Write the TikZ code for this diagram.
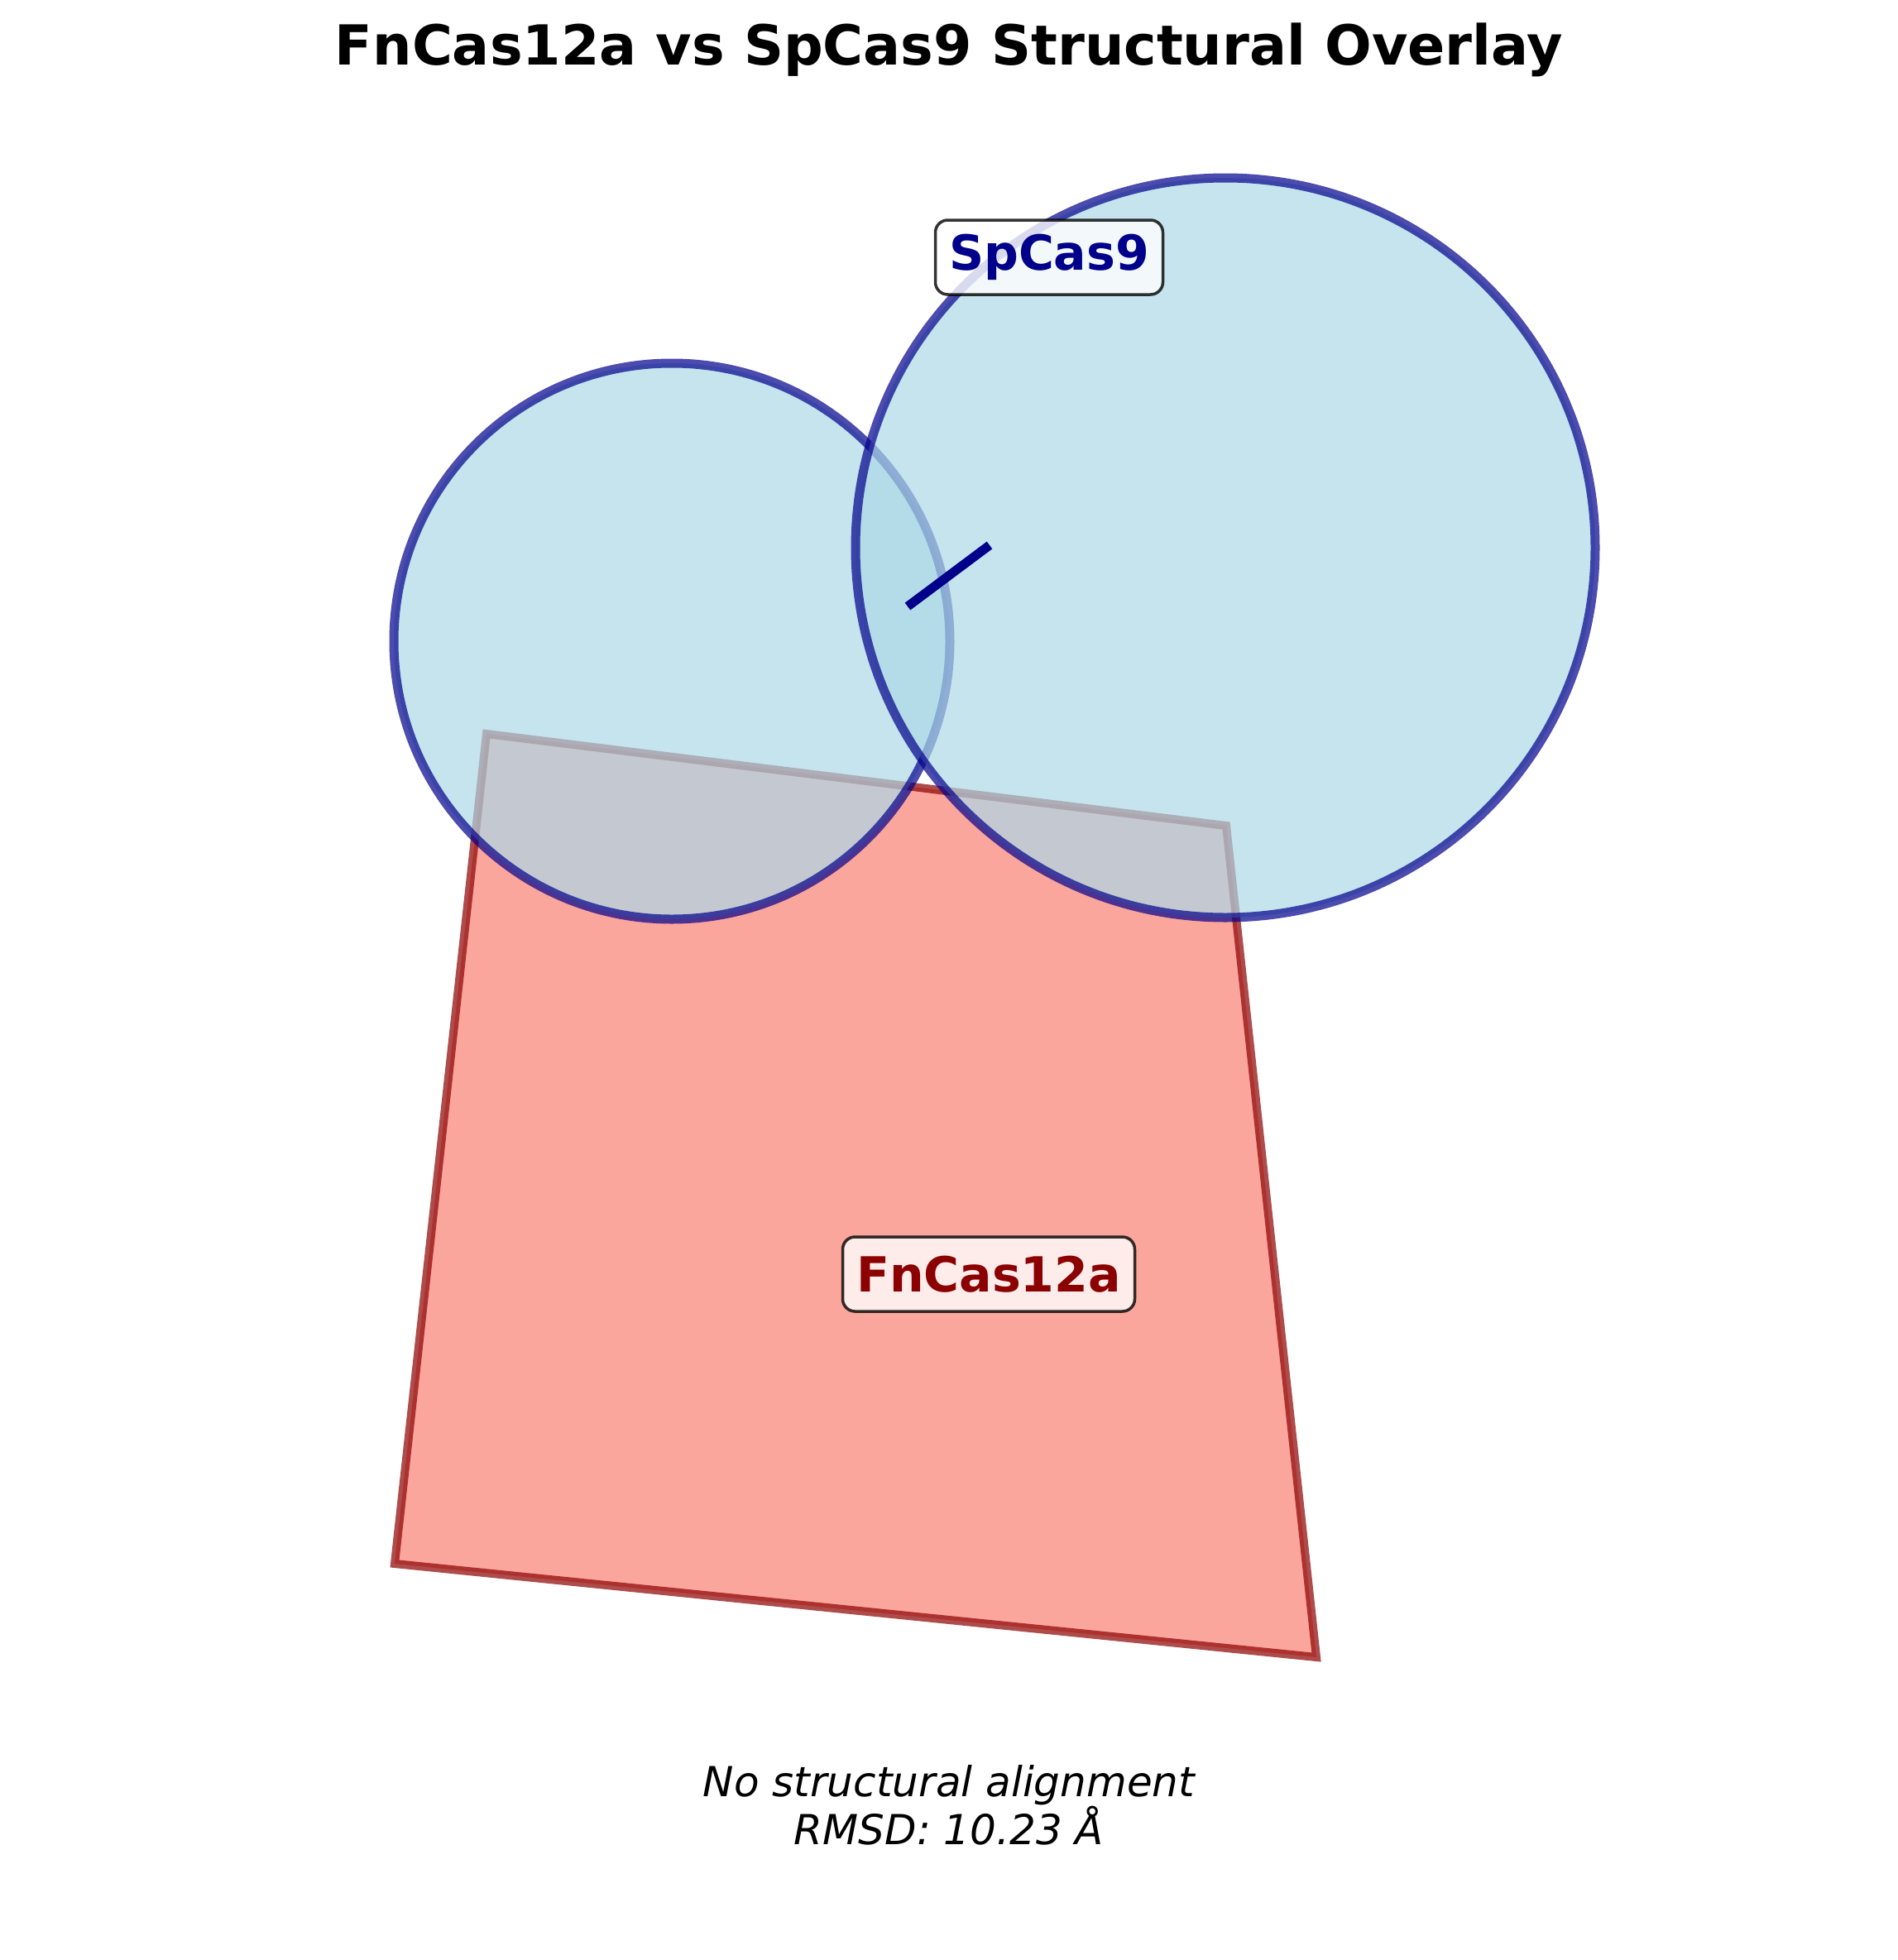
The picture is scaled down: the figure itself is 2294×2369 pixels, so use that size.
\documentclass[tikz,border=0pt]{standalone}
\usepackage{fontspec}
\setmainfont{DejaVu Sans}
\definecolor{lblue}{HTML}{ADD8E6}
\definecolor{dblue}{HTML}{00008B}
\definecolor{salmonc}{HTML}{FA8072}
\definecolor{dred}{HTML}{8B0000}
\begin{document}
\begin{tikzpicture}[x=1pt,y=-1pt,
  domainc/.style={fill=lblue,draw=dblue,opacity=0.7,line width=11pt},
  polyc/.style={fill=salmonc,draw=dred,opacity=0.7,line width=10pt,line join=miter},
  lab/.style={rounded corners=15pt,draw=black,draw opacity=0.8,fill=white,fill opacity=0.8,text opacity=1,line width=3.5pt,inner sep=0pt,minimum height=90pt,font=\bfseries\fontsize{58.5}{70}\selectfont}]
\useasboundingbox (0,0) rectangle (2294,2369);
\coordinate (p1) at (588,887);
\coordinate (p2) at (1482,998);
\coordinate (p3) at (1591,2003);
\coordinate (p4) at (477,1890);
\draw[polyc] (p1) -- (p2) -- (p3) -- (p4) -- cycle;
\coordinate (c1) at (812,775);
\coordinate (c2) at (1481,662);
\draw[domainc] (c1) circle[radius=336];
\draw[domainc] (c2) circle[radius=447];
\coordinate (l1) at (1097,733);
\coordinate (l2) at (1196,659);
\draw[dblue,line width=11pt] (l1) -- (l2);
\node[lab,text=dblue,minimum width=275pt] (sp) at (1268,311) {SpCas9};
\node[lab,text=dred,minimum width=353pt] (fn) at (1195,1540) {FnCas12a};
\node (title) at (1147,60) {\bfseries\fontsize{66.7}{80}\selectfont FnCas12a vs SpCas9 Structural Overlay};
\node[align=center,font=\itshape\fontsize{50}{54}\selectfont] (note) at (1147,2182) {No structural alignment\\RMSD: 10.23 Å};
\end{tikzpicture}
\end{document}
